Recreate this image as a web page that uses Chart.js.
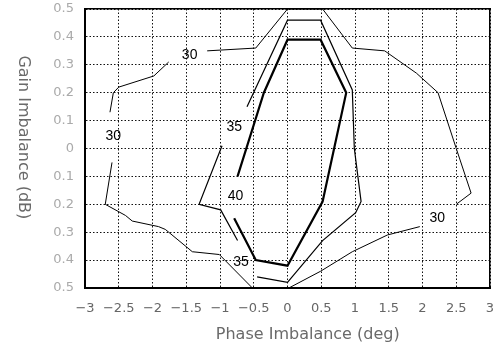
<!DOCTYPE html>
<html>
<head>
<meta charset="utf-8">
<script src="https://cdn.jsdelivr.net/npm/chart.js@4/dist/chart.umd.min.js"></script>
<style>
  html, body { margin: 0; padding: 0; background: #fff; }
  canvas { display: block; }
</style>
</head>
<body>
<canvas id="contourChart" width="499" height="345"></canvas>
<script>
// contour pieces as [phase (deg), gain (dB)], broken where the level labels sit
const level30a = [[-2.63, 0.13], [-2.58, 0.20], [-2.50, 0.22], [-1.98, 0.26], [-1.76, 0.31]];
const level30b = [[-1.19, 0.35], [-0.47, 0.36], [0.00, 0.50], [0.52, 0.50], [0.96, 0.36], [1.44, 0.35],
                  [1.91, 0.27], [2.23, 0.20], [2.50, 0.00], [2.72, -0.16], [2.50, -0.20]];
const level30c = [[1.96, -0.28], [1.48, -0.31], [0.96, -0.37], [0.49, -0.44], [0.02, -0.50], [-0.52, -0.50],
                  [-1.01, -0.38], [-1.41, -0.37], [-1.81, -0.29], [-1.91, -0.28], [-2.30, -0.26],
                  [-2.40, -0.24], [-2.70, -0.20], [-2.60, -0.05]];
const level35a = [[-0.97, 0.01], [-1.31, -0.20], [-0.99, -0.22], [-0.74, -0.33]];
const level35b = [[-0.45, -0.46], [0.00, -0.48], [0.52, -0.33], [1.01, -0.23], [1.09, -0.19], [0.99, 0.00],
                  [0.96, 0.21], [0.49, 0.46], [0.00, 0.46], [-0.60, 0.15]];
const level40 = [[-0.74, -0.10], [-0.35, 0.20], [0.00, 0.39], [0.49, 0.39], [0.87, 0.20], [0.52, -0.19],
                 [0.00, -0.42], [-0.47, -0.40], [-0.79, -0.25]];

// inline level labels, anchored in data units
const levelLabels = [
  { text: '30', x: -1.45, y: 0.335 },
  { text: '30', x: -2.58, y: 0.043 },
  { text: '30', x: 2.22, y: -0.25 },
  { text: '35', x: -0.79, y: 0.077 },
  { text: '35', x: -0.69, y: -0.406 },
  { text: '40', x: -0.77, y: -0.172 }
];

const phaseTicks = [-3, -2.5, -2, -1.5, -1, -0.5, 0, 0.5, 1, 1.5, 2, 2.5, 3];
const gainTicks = [-0.5, -0.4, -0.3, -0.2, -0.1, 0, 0.1, 0.2, 0.3, 0.4, 0.5];

const tickFont = { family: '"DejaVu Sans", sans-serif', size: 13 };
const gridDash = [1.5, 2];

function toPoints(arr) {
  return arr.map(p => ({ x: p[0], y: p[1] }));
}

function contour(arr, width) {
  return {
    data: toPoints(arr),
    showLine: true,
    borderColor: '#000',
    borderWidth: width,
    pointRadius: 0,
    tension: 0,
    fill: false
  };
}

function fmtPhase(v) {
  if (Math.abs(v) < 1e-9) return '0';
  return (v < 0 ? '\u2212' : '') + String(Math.abs(v));
}

// level labels plus the axis titles (gain title reads top to bottom)
const contourText = {
  id: 'contourText',
  afterDatasetsDraw(chart) {
    const { ctx, scales: { x, y } } = chart;
    ctx.save();
    ctx.font = '14px "Liberation Sans", Arial, sans-serif';
    ctx.fillStyle = '#000';
    ctx.textAlign = 'center';
    ctx.textBaseline = 'middle';
    levelLabels.forEach(l => {
      ctx.fillText(l.text, x.getPixelForValue(l.x), y.getPixelForValue(l.y));
    });
    ctx.restore();
  },
  afterDraw(chart) {
    const { ctx, chartArea } = chart;
    ctx.save();
    ctx.fillStyle = '#6a6a6a';
    ctx.font = '16px "DejaVu Sans", sans-serif';
    ctx.textAlign = 'center';
    ctx.textBaseline = 'alphabetic';
    ctx.fillText('Phase Imbalance (deg)', chartArea.left + chartArea.width * 0.55, chartArea.bottom + 51);

    ctx.translate(23, chartArea.top + chartArea.height * 0.46);
    ctx.rotate(Math.PI / 2);
    ctx.textBaseline = 'middle';
    ctx.fillText('Gain Imbalance (dB)', 0, 0);
    ctx.restore();
  }
};

new Chart(document.getElementById('contourChart'), {
  type: 'scatter',
  data: {
    datasets: [
      contour(level30a, 1),
      contour(level30b, 1),
      contour(level30c, 1),
      contour(level35a, 1.2),
      contour(level35b, 1.2),
      contour(level40, 2.2)
    ]
  },
  options: {
    responsive: false,
    animation: false,
    layout: { autoPadding: false, padding: { top: 9, right: 9, left: 0, bottom: 0 } },
    plugins: {
      legend: { display: false },
      tooltip: { enabled: false }
    },
    scales: {
      x: {
        type: 'linear',
        position: 'bottom',
        min: -3,
        max: 3,
        afterBuildTicks: a => { a.ticks = phaseTicks.map(v => ({ value: v })); },
        afterFit: a => { a.height = 57; a.paddingLeft = 0; a.paddingRight = 0; },
        grid: { color: '#111', lineWidth: 1, drawTicks: false },
        border: { display: true, color: '#000', width: 2, dash: gridDash },
        ticks: {
          padding: 13,
          color: '#666',
          font: tickFont,
          maxRotation: 0,
          autoSkip: false,
          callback: v => fmtPhase(v)
        }
      },
      y: {
        type: 'linear',
        position: 'left',
        min: -0.5,
        max: 0.5,
        afterBuildTicks: a => { a.ticks = gainTicks.map(v => ({ value: v })); },
        afterFit: a => { a.width = 85; a.paddingTop = 0; a.paddingBottom = 0; },
        grid: { color: '#111', lineWidth: 1, drawTicks: false },
        border: { display: true, color: '#000', width: 2, dash: gridDash },
        ticks: {
          padding: 11,
          color: '#aaa',
          font: tickFont,
          autoSkip: false,
          callback: v => (Math.abs(v) < 1e-9 ? '0' : Math.abs(v).toFixed(1))
        }
      },
      x2: {
        axis: 'x',
        type: 'linear',
        position: 'top',
        min: -3,
        max: 3,
        afterFit: a => { a.height = 0; },
        grid: { display: false },
        border: { display: true, color: '#000', width: 1.5 },
        ticks: { display: false }
      },
      y2: {
        axis: 'y',
        type: 'linear',
        position: 'right',
        min: -0.5,
        max: 0.5,
        afterFit: a => { a.width = 0; },
        grid: { display: false },
        border: { display: true, color: '#000', width: 1.5 },
        ticks: { display: false }
      }
    }
  },
  plugins: [contourText]
});
</script>
</body>
</html>
